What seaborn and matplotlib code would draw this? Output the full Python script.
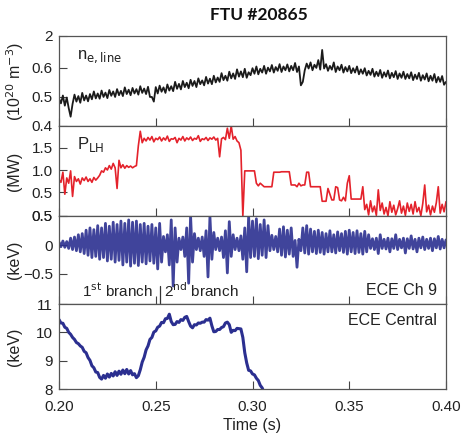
import numpy as np
import pandas as pd
import matplotlib
matplotlib.use("Agg")
import matplotlib.pyplot as plt
import seaborn as sns

# time window of the shot (s)
T_START, T_END = 0.20, 0.40
ECE_CENTRAL_END = 0.306
BRANCH_SPLIT = 0.252

# line-averaged density (1e20 m^-3): crests at 0.200, 0.202, ... 0.400
ne_crest = [
    0.495, 0.505, 0.498, 0.432, 0.508, 0.503, 0.514, 0.505, 0.510, 0.519,
    0.512, 0.522, 0.515, 0.524, 0.519, 0.527, 0.521, 0.533, 0.525, 0.531,
    0.527, 0.537, 0.529, 0.535, 0.500, 0.534, 0.539, 0.533, 0.543, 0.537,
    0.552, 0.545, 0.555, 0.549, 0.559, 0.555, 0.564, 0.557, 0.569, 0.563,
    0.573, 0.567, 0.582, 0.573, 0.587, 0.581, 0.595, 0.588, 0.597, 0.585,
    0.599, 0.605, 0.597, 0.607, 0.601, 0.610, 0.603, 0.613, 0.605, 0.612,
    0.607, 0.617, 0.605, 0.552, 0.615, 0.619, 0.611, 0.627, 0.662, 0.613,
    0.607, 0.619, 0.605, 0.611, 0.603, 0.607, 0.599, 0.605, 0.595, 0.599,
    0.590, 0.597, 0.587, 0.593, 0.585, 0.591, 0.583, 0.589, 0.581, 0.587,
    0.579, 0.585, 0.577, 0.583, 0.575, 0.581, 0.573, 0.579, 0.569, 0.572,
    0.552,
]
# troughs at 0.201, 0.203, ... 0.399
ne_trough = [
    0.478, 0.470, 0.462, 0.476, 0.484, 0.480, 0.488, 0.485, 0.492, 0.495,
    0.494, 0.500, 0.496, 0.504, 0.500, 0.506, 0.503, 0.510, 0.506, 0.512,
    0.508, 0.514, 0.510, 0.500, 0.484, 0.512, 0.518, 0.514, 0.522, 0.520,
    0.528, 0.526, 0.534, 0.530, 0.538, 0.534, 0.544, 0.540, 0.546, 0.544,
    0.550, 0.552, 0.558, 0.556, 0.564, 0.562, 0.570, 0.568, 0.566, 0.575,
    0.580, 0.578, 0.584, 0.580, 0.588, 0.584, 0.590, 0.586, 0.592, 0.588,
    0.592, 0.586, 0.540, 0.592, 0.598, 0.592, 0.600, 0.594, 0.598, 0.590,
    0.594, 0.586, 0.592, 0.584, 0.588, 0.582, 0.584, 0.578, 0.580, 0.574,
    0.576, 0.570, 0.572, 0.566, 0.570, 0.564, 0.568, 0.562, 0.566, 0.562,
    0.564, 0.558, 0.562, 0.556, 0.560, 0.554, 0.556, 0.550, 0.552, 0.542,
]

# LH power (MW), every 1 ms from 0.200 to 0.400
p_lh = [
    0.78, 0.72, 0.95, 0.45, 0.82, 0.70, 0.98, 0.40, 0.85, 0.74,
    0.80, 0.68, 0.82, 0.76, 0.84, 0.74, 0.80, 0.72, 0.83, 0.77,
    0.82, 0.88, 0.98, 0.95, 1.05, 1.00, 1.10, 1.02, 1.15, 1.05,
    0.58, 1.22, 1.05, 1.12, 1.04, 1.10, 1.06, 1.09, 1.05, 1.08,
    1.10, 1.55, 1.88, 1.62, 1.72, 1.66, 1.74, 1.68, 1.76, 1.64,
    1.72, 1.69, 1.75, 1.66, 1.73, 1.68, 1.77, 1.65, 1.71, 1.70,
    1.74, 1.62, 1.72, 1.68, 1.76, 1.66, 1.73, 1.69, 1.75, 1.67,
    1.72, 1.70, 1.78, 1.65, 1.71, 1.69, 1.74, 1.67, 1.73, 1.70,
    1.75, 1.68, 1.72, 1.30, 1.71, 1.74, 1.69, 1.95, 1.72, 2.00,
    1.70, 1.76, 1.66, 1.62, 1.45, -0.05, 0.98, 0.98, 0.98, 0.98,
    0.98, 0.98, 0.70, 0.64, 0.70, 0.66, 0.62, 0.62, 0.62, 0.62,
    0.62, 0.95, 0.95, 0.95, 0.95, 0.96, 0.96, 0.96, 0.96, 0.96,
    0.66, 0.66, 0.66, 0.62, 0.70, 0.64, 0.66, 0.66, 0.95, 0.95,
    0.62, 0.62, 0.62, 0.62, 0.62, 0.62, 0.29, 0.29, 0.29, 0.58,
    0.45, 0.32, 0.32, 0.62, 0.60, 0.32, 0.30, 0.38, 0.30, 0.70,
    0.87, 0.34, 0.34, 0.34, 0.34, 0.34, 0.34, 0.62, 0.10, 0.22,
    -0.02, 0.30, 0.05, 0.18, -0.03, 0.55, 0.08, 0.25, 0.00, 0.15,
    -0.04, 0.28, 0.04, 0.20, -0.02, 0.12, 0.30, 0.02, 0.18, -0.03,
    0.25, 0.06, 0.22, 0.00, 0.28, 0.05, 0.15, -0.04, 0.24, 0.66,
    0.05, 0.20, -0.02, 0.18, 0.04, 0.26, 0.62, 0.02, 0.22, 0.05,
    0.28,
]

# ECE channel 9 fluctuation (keV): crests at even ms, troughs at odd ms
ece_ch9_crest = [
    0.05, 0.07, 0.06, 0.12, 0.14, 0.18, 0.20, 0.26, 0.30, 0.27,
    0.34, 0.30, 0.38, 0.33, 0.40, 0.36, 0.42, 0.38, 0.44, 0.40,
    0.42, 0.36, 0.38, 0.33, 0.36, 0.30, 0.38, 0.15, 0.18, 0.44,
    0.30, 0.12, 0.14, 0.30, 0.51, 0.20, 0.12, 0.14, 0.25, 0.50,
    0.22, 0.12, 0.14, 0.25, 0.41, 0.18, 0.12, 0.16, 0.30, 0.50,
    0.42, 0.46, 0.36, 0.44, 0.34, 0.17, 0.15, 0.28, 0.32, 0.26,
    0.30, 0.08, 0.10, 0.30, 0.34, 0.28, 0.24, 0.26, 0.22, 0.20,
    0.25, 0.18, 0.23, 0.20, 0.24, 0.26, 0.22, 0.25, 0.20, 0.24,
    0.18, 0.11, 0.12, 0.18, 0.10, 0.12, 0.11, 0.18, 0.10, 0.12,
    0.11, 0.16, 0.10, 0.12, 0.14, 0.10, 0.12, 0.11, 0.15, 0.10,
    0.09,
]
ece_ch9_trough = [
    -0.03, -0.04, -0.06, -0.08, -0.10, -0.12, -0.15, -0.18, -0.22, -0.20,
    -0.25, -0.22, -0.28, -0.25, -0.30, -0.27, -0.35, -0.30, -0.37, -0.32,
    -0.36, -0.30, -0.33, -0.28, -0.32, -0.42, -0.30, -0.12, -0.35, -0.72,
    -0.30, -0.08, -0.20, -0.67, -0.30, -0.08, -0.10, -0.20, -0.56, -0.25,
    -0.08, -0.10, -0.22, -0.49, -0.20, -0.08, -0.10, -0.25, -0.47, -0.22,
    -0.20, -0.24, -0.18, -0.22, -0.10, -0.08, -0.12, -0.18, -0.21, -0.16,
    -0.20, -0.39, -0.10, -0.14, -0.16, -0.12, -0.15, -0.13, -0.16, -0.12,
    -0.12, -0.14, -0.10, -0.13, -0.16, -0.12, -0.15, -0.13, -0.16, -0.12,
    -0.06, -0.08, -0.15, -0.06, -0.07, -0.12, -0.06, -0.08, -0.05, -0.14,
    -0.06, -0.07, -0.12, -0.05, -0.08, -0.06, -0.10, -0.05, -0.07, -0.05,
]

# central ECE temperature (keV), every 1 ms from 0.200 to 0.306
ece_central = [
    10.45, 10.33, 10.32, 10.18, 10.14, 10.00, 9.93, 9.82, 9.75, 9.64,
    9.60, 9.52, 9.47, 9.33, 9.28, 9.11, 9.01, 8.82, 8.75, 8.60,
    8.58, 8.41, 8.35, 8.48, 8.38, 8.53, 8.42, 8.55, 8.46, 8.61,
    8.48, 8.63, 8.52, 8.67, 8.54, 8.69, 8.53, 8.65, 8.50, 8.54,
    8.40, 8.47, 8.68, 8.95, 9.12, 9.38, 9.52, 9.75, 9.82, 10.01,
    10.05, 10.18, 10.22, 10.35, 10.34, 10.48, 10.49, 10.64, 10.38, 10.27,
    10.28, 10.38, 10.35, 10.45, 10.42, 10.53, 10.56, 10.38, 10.22, 10.16,
    10.27, 10.26, 10.33, 10.32, 10.36, 10.36, 10.45, 10.43, 10.50, 10.23,
    10.02, 10.03, 10.10, 10.10, 10.17, 10.20, 10.33, 10.36, 10.27, 10.00,
    10.07, 10.06, 10.14, 10.13, 10.12, 9.82, 9.28, 8.92, 8.66, 8.64,
    8.53, 8.50, 8.38, 8.30, 8.13, 8.04, 7.86,
]

x_ticks = [0.20, 0.25, 0.30, 0.35, 0.40]
x_tick_labels = ["0.20", "0.25", "0.30", "0.35", "0.40"]

# tick values and the labels printed beside them (as in the original figure)
ne_ticks, ne_tick_labels = [0.4, 0.5, 0.6, 0.71], ["0.4", "0.5", "0.6", "2"]
plh_ticks, plh_tick_labels = [-0.045, 0.5, 1.0, 1.5], ["0.5", "0.5", "1.0", "1.5"]
ch9_ticks, ch9_tick_labels = [-1.035, -0.5, 0.0, 0.509], ["11", "\u22120.5", "0", "0.5"]
cen_ticks, cen_tick_labels = [8, 9, 10], ["8", "9", "10"]


def zigzag(crest, trough, start, end):
    # crest samples on the even grid, trough samples half a step later
    up = pd.DataFrame({"t": np.linspace(start, end, len(crest)), "v": crest})
    step = (end - start) / (len(crest) - 1)
    down = pd.DataFrame({"t": np.linspace(start + step / 2, end - step / 2, len(trough)), "v": trough})
    return pd.concat([up, down]).sort_values("t").reset_index(drop=True)


ne_df = zigzag(ne_crest, ne_trough, T_START, T_END)
plh_df = pd.DataFrame({"t": np.linspace(T_START, T_END, len(p_lh)), "v": p_lh})
ch9_df = zigzag(ece_ch9_crest, ece_ch9_trough, T_START, T_END)
cen_df = pd.DataFrame({"t": np.linspace(T_START, ECE_CENTRAL_END, len(ece_central)), "v": ece_central})

sns.set_style("ticks")
plt.rcParams["font.family"] = ["Liberation Sans", "DejaVu Sans"]
plt.rcParams["axes.unicode_minus"] = True

TEXT = "#222222"
BLACK = "#1b1b1b"
RED = "#e4222b"
NAVY = "#2b2f90"

fig = plt.figure(figsize=(4.68, 4.41), dpi=100)
gs = fig.add_gridspec(4, 1, height_ratios=[90, 90, 88, 85], hspace=0,
                      left=0.1261, right=0.953, top=0.9184, bottom=0.1179)
axes = [fig.add_subplot(gs[i]) for i in range(4)]

sns.lineplot(data=ne_df, x="t", y="v", ax=axes[0], color=BLACK, linewidth=1.3, sort=False)
sns.lineplot(data=plh_df, x="t", y="v", ax=axes[1], color=RED, linewidth=1.2)
sns.lineplot(data=ch9_df, x="t", y="v", ax=axes[2], color=NAVY, linewidth=2.0,
             alpha=0.9, sort=False)
sns.lineplot(data=cen_df, x="t", y="v", ax=axes[3], color=NAVY, linewidth=2.2)

limits = [(0.4, 0.71), (-0.045, 2.0), (-1.035, 0.509), (8, 11)]
yticks = [(ne_ticks, ne_tick_labels), (plh_ticks, plh_tick_labels),
          (ch9_ticks, ch9_tick_labels), (cen_ticks, cen_tick_labels)]
ylabels = [r"(10$^{20}$ m$^{-3}$)", "(MW)", "(keV)", "(keV)"]

for i, ax in enumerate(axes):
    ax.set_xlim(T_START, T_END)
    ax.set_ylim(*limits[i])
    ax.set_xticks(x_ticks)
    ax.set_yticks(yticks[i][0])
    ax.set_yticklabels(yticks[i][1])
    ax.set_xlabel("")
    ax.set_ylabel("")
    ax.tick_params(axis="both", direction="in", length=6, width=0.8,
                   color="#444444", labelcolor=TEXT, labelsize=11)
    ax.tick_params(axis="y", pad=4.5)
    for s in ax.spines.values():
        s.set_visible(True)
        s.set_color("#555555")
        s.set_linewidth(0.9)
    if i < 3:
        ax.tick_params(axis="x", labelbottom=False)
    ax.text(-0.114, 0.5, ylabels[i], transform=ax.transAxes, rotation=90,
            ha="center", va="center", fontsize=11.5, color=TEXT)

axes[3].set_xticklabels(x_tick_labels)
axes[3].tick_params(axis="x", pad=8)
axes[3].set_xlabel("Time (s)", fontsize=11.5, color=TEXT, labelpad=3)

axes[0].text(0.047, 0.77, r"n$_{\rm e,line}$", transform=axes[0].transAxes,
             fontsize=12, color=TEXT, va="center")
axes[1].text(0.047, 0.79, r"P$_{\rm LH}$", transform=axes[1].transAxes,
             fontsize=12, color=TEXT, va="center")
axes[2].text(0.06, 0.15, r"1$^{\rm st}$ branch", transform=axes[2].transAxes,
             fontsize=11, color=TEXT, va="center")
axes[2].text(0.27, 0.15, r"2$^{\rm nd}$ branch", transform=axes[2].transAxes,
             fontsize=11, color=TEXT, va="center")
axes[2].axvline(BRANCH_SPLIT, ymin=0, ymax=0.2, color="#333333", linewidth=0.9)
axes[2].text(0.977, 0.15, "ECE Ch 9", transform=axes[2].transAxes,
             fontsize=11.5, color=TEXT, va="center", ha="right")
axes[3].text(0.977, 0.81, "ECE Central", transform=axes[3].transAxes,
             fontsize=11.5, color=TEXT, va="center", ha="right")

fig.text(0.554, 0.966, "FTU #20865", ha="center", va="center", fontsize=12.5,
         fontweight="bold", family=["Lato", "DejaVu Sans"], color="#111111")

fig.savefig("out.png", dpi=100)
plt.close(fig)
